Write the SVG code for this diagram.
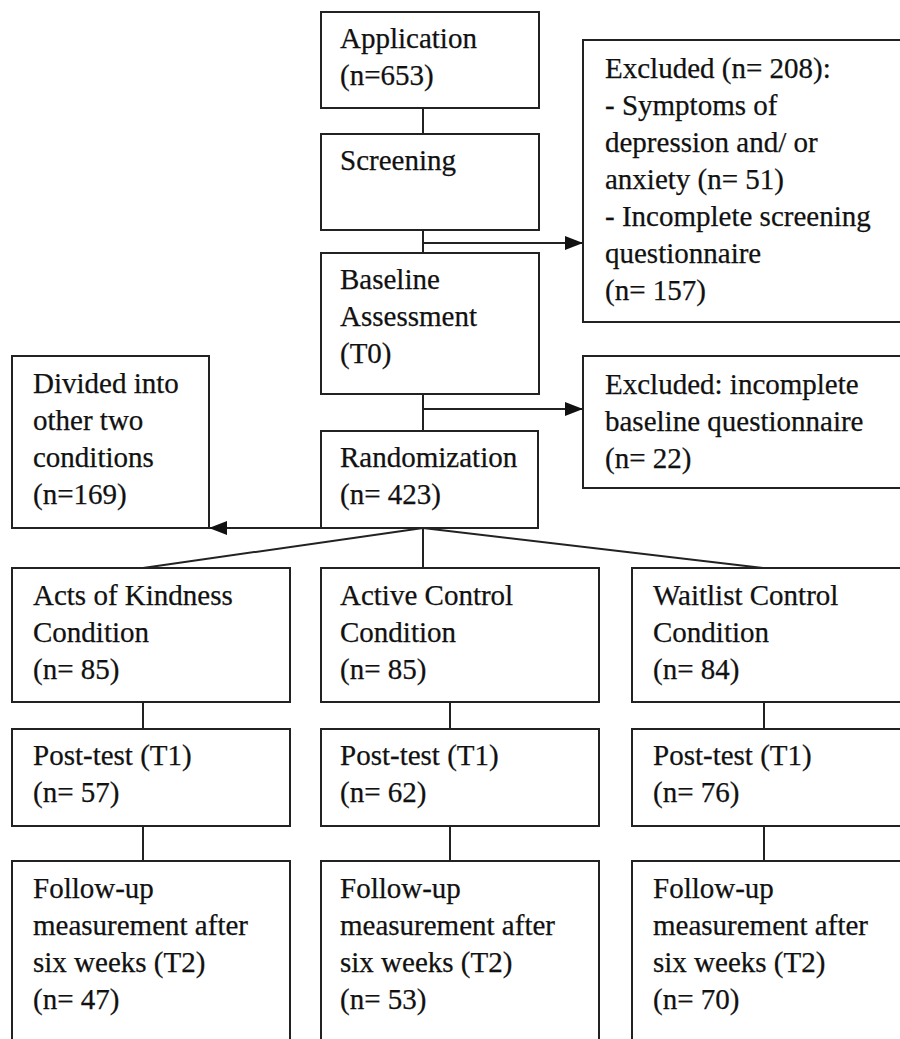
<svg xmlns="http://www.w3.org/2000/svg" width="900" height="1039" viewBox="0 0 900 1039">
<defs>
<style>
.box{fill:#fff;stroke:#222;stroke-width:2}
.ln{fill:none;stroke:#222;stroke-width:2}
text{font-family:"Liberation Serif","Times New Roman",serif;font-size:29px;fill:#111;stroke:#111;stroke-width:0.25}
</style>
<marker id="ah" markerWidth="18" markerHeight="14" refX="18" refY="7" orient="auto" markerUnits="userSpaceOnUse">
<path d="M0,0 L18,7 L0,14 Z" fill="#111"/>
</marker>
</defs>
<rect width="900" height="1039" fill="#fff"/>
<g id="connectors">
<line class="ln" x1="423" y1="108" x2="423" y2="134"/>
<line class="ln" x1="423" y1="230" x2="423" y2="253"/>
<line class="ln" x1="423" y1="243" x2="583" y2="243" marker-end="url(#ah)"/>
<line class="ln" x1="423" y1="394" x2="423" y2="431"/>
<line class="ln" x1="423" y1="409" x2="583" y2="409" marker-end="url(#ah)"/>
<line class="ln" x1="423" y1="528" x2="209" y2="528" marker-end="url(#ah)"/>
<line class="ln" x1="423" y1="528" x2="143" y2="568"/>
<line class="ln" x1="423" y1="528" x2="423" y2="568"/>
<line class="ln" x1="423" y1="528" x2="763" y2="568"/>
<line class="ln" x1="143" y1="702" x2="143" y2="729"/>
<line class="ln" x1="143" y1="826" x2="143" y2="861"/>
<line class="ln" x1="450" y1="702" x2="450" y2="729"/>
<line class="ln" x1="450" y1="826" x2="450" y2="861"/>
<line class="ln" x1="764" y1="702" x2="764" y2="729"/>
<line class="ln" x1="764" y1="826" x2="764" y2="861"/>
</g>
<g id="application"><rect class="box" x="321" y="12" width="218" height="96"/>
<text x="340" y="48">Application</text><text x="340" y="85">(n=653)</text></g>
<g id="screening"><rect class="box" x="321" y="134" width="218" height="96"/>
<text x="340" y="170">Screening</text></g>
<g id="excluded1"><rect class="box" x="583" y="40" width="325" height="282"/>
<text x="605" y="78">Excluded (n= 208):</text>
<text x="605" y="115">- Symptoms of</text>
<text x="605" y="152">depression and/ or</text>
<text x="605" y="189">anxiety (n= 51)</text>
<text x="605" y="226">- Incomplete screening</text>
<text x="605" y="263">questionnaire</text>
<text x="605" y="300">(n= 157)</text></g>
<g id="baseline"><rect class="box" x="321" y="253" width="218" height="141"/>
<text x="340" y="289">Baseline</text><text x="340" y="326">Assessment</text><text x="340" y="363">(T0)</text></g>
<g id="excluded2"><rect class="box" x="583" y="356" width="325" height="132"/>
<text x="605" y="394">Excluded: incomplete</text>
<text x="605" y="431">baseline questionnaire</text>
<text x="605" y="468">(n= 22)</text></g>
<g id="divided"><rect class="box" x="12" y="356" width="197" height="172"/>
<text x="33" y="393">Divided into</text><text x="33" y="430">other two</text><text x="33" y="467">conditions</text><text x="33" y="504">(n=169)</text></g>
<g id="randomization"><rect class="box" x="321" y="431" width="217" height="97"/>
<text x="340" y="467">Randomization</text><text x="340" y="504">(n= 423)</text></g>
<g id="acts"><rect class="box" x="12" y="568" width="278" height="134"/>
<text x="33" y="605">Acts of Kindness</text><text x="33" y="642">Condition</text><text x="33" y="679">(n= 85)</text></g>
<g id="active"><rect class="box" x="321" y="568" width="278" height="134"/>
<text x="340" y="605">Active Control</text><text x="340" y="642">Condition</text><text x="340" y="679">(n= 85)</text></g>
<g id="waitlist"><rect class="box" x="632" y="568" width="276" height="134"/>
<text x="653" y="605">Waitlist Control</text><text x="653" y="642">Condition</text><text x="653" y="679">(n= 84)</text></g>
<g id="post1"><rect class="box" x="12" y="729" width="278" height="97"/>
<text x="33" y="765">Post-test (T1)</text><text x="33" y="802">(n= 57)</text></g>
<g id="post2"><rect class="box" x="321" y="729" width="278" height="97"/>
<text x="340" y="765">Post-test (T1)</text><text x="340" y="802">(n= 62)</text></g>
<g id="post3"><rect class="box" x="632" y="729" width="276" height="97"/>
<text x="653" y="765">Post-test (T1)</text><text x="653" y="802">(n= 76)</text></g>
<g id="follow1"><rect class="box" x="12" y="861" width="278" height="190"/>
<text x="33" y="898">Follow-up</text><text x="33" y="935">measurement after</text><text x="33" y="972">six weeks (T2)</text><text x="33" y="1009">(n= 47)</text></g>
<g id="follow2"><rect class="box" x="321" y="861" width="278" height="190"/>
<text x="340" y="898">Follow-up</text><text x="340" y="935">measurement after</text><text x="340" y="972">six weeks (T2)</text><text x="340" y="1009">(n= 53)</text></g>
<g id="follow3"><rect class="box" x="632" y="861" width="276" height="190"/>
<text x="653" y="898">Follow-up</text><text x="653" y="935">measurement after</text><text x="653" y="972">six weeks (T2)</text><text x="653" y="1009">(n= 70)</text></g>
</svg>
